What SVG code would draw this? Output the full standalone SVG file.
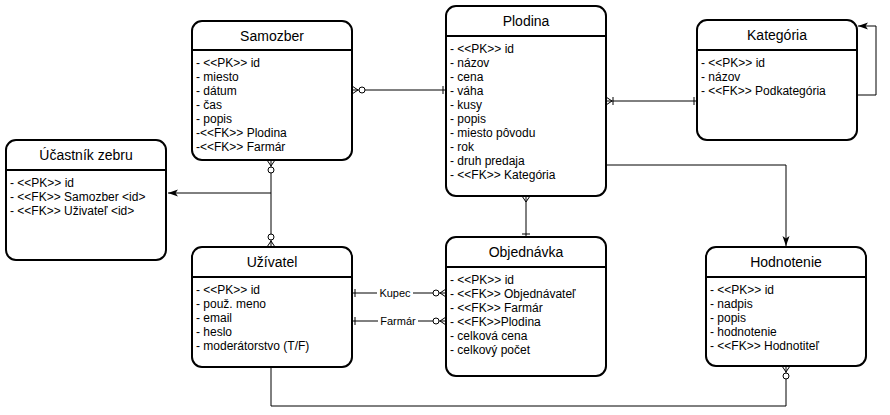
<svg xmlns="http://www.w3.org/2000/svg" width="890" height="415" viewBox="0 0 890 415">
<style>
.box{fill:#fff;stroke:#000;stroke-width:2}
.hd{stroke:#000;stroke-width:2}
.t{font-family:"Liberation Sans",Arial,sans-serif;font-size:14px;fill:#000;text-anchor:middle}
.a{font-family:"Liberation Sans",Arial,sans-serif;font-size:12px;fill:#000}
.ln{fill:none;stroke:#000;stroke-width:1}
.lb{font-family:"Liberation Sans",Arial,sans-serif;font-size:11px;fill:#000;text-anchor:middle}
</style>
<defs>
<marker id="arr" markerUnits="userSpaceOnUse" markerWidth="11" markerHeight="8" refX="10" refY="3.5" orient="auto"><path d="M0,0 L10,3.5 L0,7 L2.5,3.5 z" fill="#000"/></marker>
<g id="many"><path d="M0,-4 L6,0 L0,4" fill="none" stroke="#000"/></g>
<g id="zeroMany"><path d="M0,-4 L6,0 L0,4" fill="none" stroke="#000"/><circle cx="10" cy="0" r="3" fill="#fff" stroke="#000"/></g>
<g id="oneMany"><path d="M0,-4 L6,0 L0,4 M7,-4 L7,4" fill="none" stroke="#000"/></g>
<g id="one"><path d="M3,-4 L3,4" fill="none" stroke="#000"/></g>
</defs>
<rect width="890" height="415" fill="#fff"/>
<g id="connectors">
<path class="ln" d="M352,90 L446,90"/>
<path class="ln" d="M606,101 L697,101"/>
<path class="ln" d="M857,95 L876,95 L876,26 L858,26" marker-end="url(#arr)"/>
<path class="ln" d="M606,165 L786,165 L786,246" marker-end="url(#arr)"/>
<path class="ln" d="M526,196 L526,237"/>
<path class="ln" d="M271,160 L271,247"/>
<path class="ln" d="M271,193 L168,193" marker-end="url(#arr)"/>
<path class="ln" d="M352,293 L446,293"/>
<path class="ln" d="M352,321 L446,321"/>
<path class="ln" d="M786,366 L786,406 L271,406 L271,367"/>
<use href="#zeroMany" transform="translate(352,90)"/>
<use href="#one" transform="translate(446,90) rotate(180)"/>
<use href="#oneMany" transform="translate(606,101)"/>
<use href="#one" transform="translate(697,101) rotate(180)"/>
<use href="#many" transform="translate(526,196) rotate(90)"/>
<use href="#one" transform="translate(526,237) rotate(-90)"/>
<use href="#zeroMany" transform="translate(271,160) rotate(90)"/>
<use href="#zeroMany" transform="translate(271,247) rotate(-90)"/>
<use href="#one" transform="translate(352,293)"/>
<use href="#zeroMany" transform="translate(446,293) rotate(180)"/>
<use href="#one" transform="translate(352,321)"/>
<use href="#zeroMany" transform="translate(446,321) rotate(180)"/>
<use href="#zeroMany" transform="translate(786,366) rotate(90)"/>
<use href="#one" transform="translate(271,367) rotate(-90)"/>
<rect x="377" y="286" width="36" height="14" fill="#fff"/>
<text class="lb" x="395" y="297">Kupec</text>
<rect x="378" y="314" width="40" height="14" fill="#fff"/>
<text class="lb" x="398" y="325">Farmár</text>
</g>
<g id="samozber">
<rect class="box" x="192" y="21" width="160" height="139" rx="10"/>
<line class="hd" x1="192" y1="50" x2="352" y2="50"/>
<text class="t" x="272" y="41">Samozber</text>
<text class="a" x="196" y="67">- &lt;&lt;PK&gt;&gt; id</text>
<text class="a" x="196" y="81">- miesto</text>
<text class="a" x="196" y="95">- dátum</text>
<text class="a" x="196" y="109">- čas</text>
<text class="a" x="196" y="123">- popis</text>
<text class="a" x="196" y="137">-&lt;&lt;FK&gt;&gt; Plodina</text>
<text class="a" x="196" y="151">-&lt;&lt;FK&gt;&gt; Farmár</text>
</g>
<g id="plodina">
<rect class="box" x="446" y="6" width="160" height="190" rx="10"/>
<line class="hd" x1="446" y1="36" x2="606" y2="36"/>
<text class="t" x="526" y="26">Plodina</text>
<text class="a" x="450" y="53">- &lt;&lt;PK&gt;&gt; id</text>
<text class="a" x="450" y="67">- názov</text>
<text class="a" x="450" y="81">- cena</text>
<text class="a" x="450" y="95">- váha</text>
<text class="a" x="450" y="109">- kusy</text>
<text class="a" x="450" y="123">- popis</text>
<text class="a" x="450" y="137">- miesto pôvodu</text>
<text class="a" x="450" y="151">- rok</text>
<text class="a" x="450" y="165">- druh predaja</text>
<text class="a" x="450" y="179">- &lt;&lt;FK&gt;&gt; Kategória</text>
</g>
<g id="kategoria">
<rect class="box" x="697" y="20" width="160" height="120" rx="10"/>
<line class="hd" x1="697" y1="50" x2="857" y2="50"/>
<text class="t" x="777" y="40">Kategória</text>
<text class="a" x="701" y="67">- &lt;&lt;PK&gt;&gt; id</text>
<text class="a" x="701" y="81">- názov</text>
<text class="a" x="701" y="95">- &lt;&lt;FK&gt;&gt; Podkategória</text>
</g>
<g id="ucastnik">
<rect class="box" x="6" y="140" width="160" height="120" rx="10"/>
<line class="hd" x1="6" y1="170" x2="166" y2="170"/>
<text class="t" x="86" y="160">Účastník zebru</text>
<text class="a" x="10" y="187">- &lt;&lt;PK&gt;&gt; id</text>
<text class="a" x="10" y="201">- &lt;&lt;FK&gt;&gt; Samozber &lt;id&gt;</text>
<text class="a" x="10" y="215">- &lt;&lt;FK&gt;&gt; Uživateľ &lt;id&gt;</text>
</g>
<g id="uzivatel">
<rect class="box" x="192" y="247" width="160" height="120" rx="10"/>
<line class="hd" x1="192" y1="277" x2="352" y2="277"/>
<text class="t" x="272" y="267">Užívatel</text>
<text class="a" x="196" y="294">- &lt;&lt;PK&gt;&gt; id</text>
<text class="a" x="196" y="308">- použ. meno</text>
<text class="a" x="196" y="322">- email</text>
<text class="a" x="196" y="336">- heslo</text>
<text class="a" x="196" y="350">- moderátorstvo (T/F)</text>
</g>
<g id="objednavka">
<rect class="box" x="446" y="237" width="160" height="139" rx="10"/>
<line class="hd" x1="446" y1="267" x2="606" y2="267"/>
<text class="t" x="526" y="257">Objednávka</text>
<text class="a" x="450" y="284">- &lt;&lt;PK&gt;&gt; id</text>
<text class="a" x="450" y="298">- &lt;&lt;FK&gt;&gt; Objednávateľ</text>
<text class="a" x="450" y="312">- &lt;&lt;FK&gt;&gt; Farmár</text>
<text class="a" x="450" y="326">- &lt;&lt;FK&gt;&gt;Plodina</text>
<text class="a" x="450" y="340">- celková cena</text>
<text class="a" x="450" y="354">- celkový počet</text>
</g>
<g id="hodnotenie">
<rect class="box" x="706" y="247" width="160" height="119" rx="10"/>
<line class="hd" x1="706" y1="277" x2="866" y2="277"/>
<text class="t" x="786" y="267">Hodnotenie</text>
<text class="a" x="710" y="294">- &lt;&lt;PK&gt;&gt; id</text>
<text class="a" x="710" y="308">- nadpis</text>
<text class="a" x="710" y="322">- popis</text>
<text class="a" x="710" y="336">- hodnotenie</text>
<text class="a" x="710" y="350">- &lt;&lt;FK&gt;&gt; Hodnotiteľ</text>
</g>
</svg>
